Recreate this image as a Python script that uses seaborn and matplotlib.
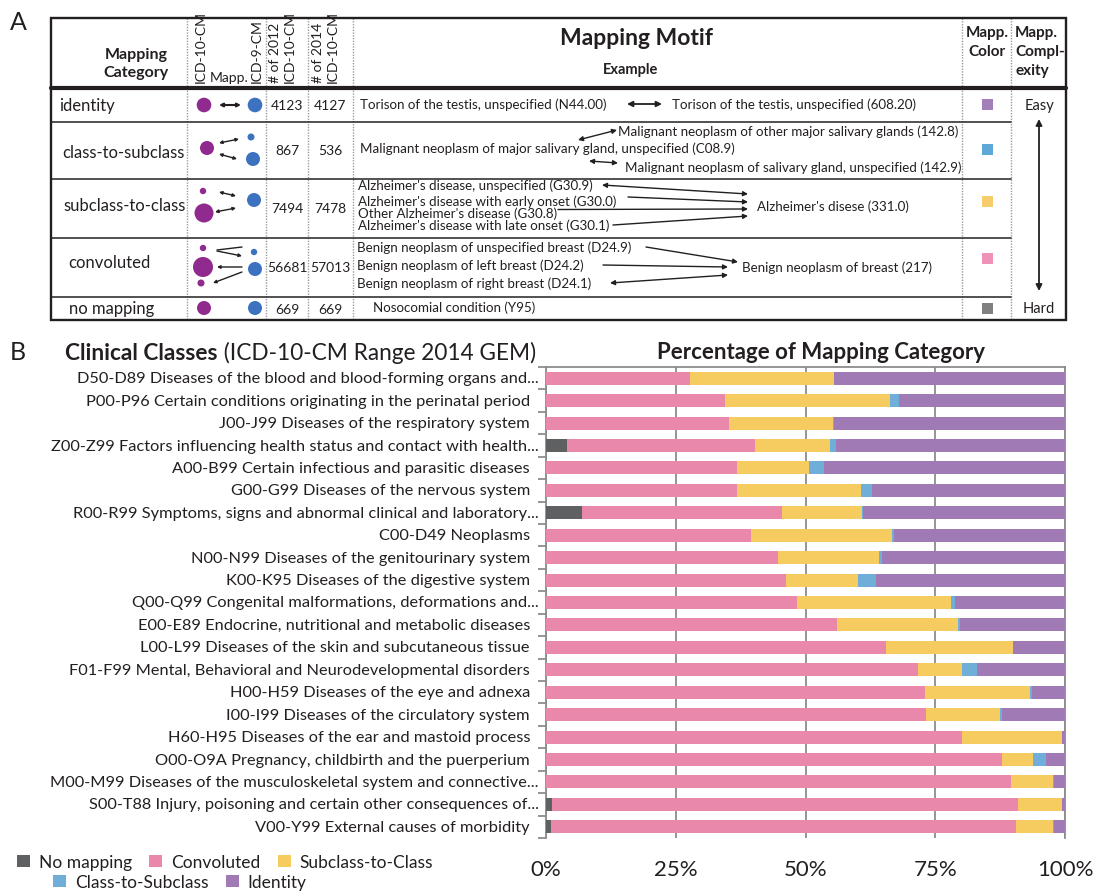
import matplotlib
matplotlib.use('Agg')
import matplotlib.pyplot as plt
import matplotlib.transforms as mtransforms
from matplotlib.patches import Circle, Rectangle, Patch
import seaborn as sns
import numpy as np
import pandas as pd

# ---------------- Panel B data ----------------
classes = [
    "D50-D89 Diseases of the blood and blood-forming organs and...",
    "P00-P96 Certain conditions originating in the perinatal period",
    "J00-J99 Diseases of the respiratory system",
    "Z00-Z99 Factors influencing health status and contact with health...",
    "A00-B99 Certain infectious and parasitic diseases",
    "G00-G99 Diseases of the nervous system",
    "R00-R99 Symptoms, signs and abnormal clinical and laboratory...",
    "C00-D49 Neoplasms",
    "N00-N99 Diseases of the genitourinary system",
    "K00-K95 Diseases of the digestive system",
    "Q00-Q99 Congenital malformations, deformations and...",
    "E00-E89 Endocrine, nutritional and metabolic diseases",
    "L00-L99 Diseases of the skin and subcutaneous tissue",
    "F01-F99 Mental, Behavioral and Neurodevelopmental disorders",
    "H00-H59 Diseases of the eye and adnexa",
    "I00-I99 Diseases of the circulatory system",
    "H60-H95 Diseases of the ear and mastoid process",
    "O00-O9A Pregnancy, childbirth and the puerperium",
    "M00-M99 Diseases of the musculoskeletal system and connective...",
    "S00-T88 Injury, poisoning and certain other consequences of...",
    "V00-Y99 External causes of morbidity",
]
no_mapping        = [0.0, 0.0, 0.0, 4.0, 0.0, 0.0, 6.9, 0.0, 0.0, 0.0, 0.0, 0.0, 0.0, 0.0, 0.0, 0.0, 0.0, 0.0, 0.0, 1.1, 0.9]
convoluted        = [27.8, 34.4, 35.2, 36.2, 36.8, 36.8, 38.5, 39.5, 44.7, 46.2, 48.3, 56.0, 65.6, 71.7, 73.0, 73.3, 80.1, 87.8, 89.5, 89.8, 89.6]
subclass_to_class = [27.7, 31.9, 20.1, 14.6, 13.8, 23.9, 15.5, 27.1, 19.4, 14.0, 29.7, 23.4, 24.3, 8.4, 20.3, 14.2, 19.3, 6.1, 8.1, 8.6, 7.1]
class_to_subclass = [0.0, 1.8, 0.1, 1.0, 3.0, 2.1, 0.1, 0.5, 0.6, 3.4, 0.9, 0.3, 0.0, 2.9, 0.4, 0.3, 0.1, 2.4, 0.2, 0.0, 0.2]
identity          = [44.5, 31.9, 44.6, 44.2, 46.4, 37.2, 39.0, 32.9, 35.3, 36.4, 21.1, 20.3, 10.1, 17.0, 6.3, 12.2, 0.5, 3.7, 2.2, 0.5, 2.2]
series_names = ["No mapping", "Convoluted", "Subclass-to-Class", "Class-to-Subclass", "Identity"]
bar_colors = ["#5e6062", "#e988aa", "#f6cb60", "#6eaed9", "#9f7ab5"]
x_ticks = [0, 25, 50, 75, 100]
x_ticklabels = ["0%", "25%", "50%", "75%", "100%"]

# ---------------- Panel A data ----------------
map_categories = ["identity", "class-to-subclass", "subclass-to-class", "convoluted", "no mapping"]
n_2012 = [4123, 867, 7494, 56681, 669]
n_2014 = [4127, 536, 7478, 57013, 669]
map_colors = ["#a37fb9", "#5ea8d8", "#f7cd6b", "#ee92b7", "#808080"]

sns.set_theme(style="white")
plt.rcParams['font.family'] = ['Lato', 'DejaVu Sans']
TXT = "#231f20"

fig = plt.figure(figsize=(10.94, 8.95), dpi=100)
axA = fig.add_axes([0, 0, 1, 1])
axA.set_xlim(0, 1094)
axA.set_ylim(895, 0)
axA.axis('off')

# ----- panel letters -----
axA.text(18, 22, "A", fontsize=18, ha='center', va='center', color=TXT)
axA.text(18, 352, "B", fontsize=18, ha='center', va='center', color=TXT)

# ----- table frame -----
L, R, T, Bt = 51, 1066, 18.5, 321
row_lines = [123, 180, 239, 298]
col_lines = [187, 266, 308, 353, 962, 1011]
for x in col_lines:
    axA.plot([x, x], [T, Bt], color='#9a9a9a', lw=1.0, ls=(0, (1, 1)), zorder=1)
for y in row_lines:
    axA.plot([L, 1011], [y, y], color='#333333', lw=1.2, zorder=2)
axA.plot([L, R], [89, 89], color=TXT, lw=3.0, zorder=3)
axA.add_patch(Rectangle((L, T), R - L, Bt - T, fill=False, ec=TXT, lw=1.7, zorder=4))

# ----- header -----
axA.text(136, 55, "Mapping", fontsize=11.5, fontweight='bold', ha='center', va='center', color=TXT)
axA.text(136, 73, "Category", fontsize=11.5, fontweight='bold', ha='center', va='center', color=TXT)
for x, s in [(201, "ICD-10-CM"), (257, "ICD-9-CM"), (275, "# of 2012"), (290, "ICD-10-CM"),
             (318, "# of 2014"), (333, "ICD-10-CM")]:
    axA.text(x, 83, s, fontsize=10, rotation=90, rotation_mode='anchor', ha='left', va='center', color=TXT)
axA.text(229, 78, "Mapp.", fontsize=10, ha='center', va='center', color=TXT)
axA.text(637, 38, "Mapping Motif", fontsize=16.5, fontweight='bold', ha='center', va='center', color=TXT)
axA.text(631, 70, "Example", fontsize=10.5, fontweight='bold', ha='center', va='center', color=TXT)
axA.text(987, 33, "Mapp.", fontsize=11, fontweight='bold', ha='center', va='center', color=TXT)
axA.text(987, 52, "Color", fontsize=11, fontweight='bold', ha='center', va='center', color=TXT)
for y, s in [(33, "Mapp."), (52, "Compl-"), (71, "exity")]:
    axA.text(1015, y, s, fontsize=11, fontweight='bold', ha='left', va='center', color=TXT)

# ----- rows -----
row_centers = [106, 151, 209, 268, 309.5]
label_pos = [(59, 106), (62, 153), (63, 206), (68, 263), (69, 309)]
for (x, y), s in zip(label_pos, map_categories):
    axA.text(x, y, s, fontsize=12, ha='left', va='center', color=TXT)
for yc, a, b in zip(row_centers, n_2012, n_2014):
    axA.text(287, yc, str(a), fontsize=10, ha='center', va='center', color=TXT)
    axA.text(330, yc, str(b), fontsize=10, ha='center', va='center', color=TXT)
sq = 11
for yc, c in zip([105, 150, 202, 259, 309], map_colors):
    axA.add_patch(Rectangle((987 - sq / 2, yc - sq / 2), sq, sq, color=c, lw=0, zorder=5))
axA.text(1039, 106, "Easy", fontsize=10.5, ha='center', va='center', color=TXT)
axA.text(1039, 309, "Hard", fontsize=10.5, ha='center', va='center', color=TXT)
axA.annotate("", xy=(1039, 292), xytext=(1039, 120),
             arrowprops=dict(arrowstyle='<|-|>', color=TXT, lw=1.3, mutation_scale=9, shrinkA=0, shrinkB=0))

PUR, BLU = "#902a8e", "#3d72c0"
circles = [
    (204, 106, 7.3, PUR), (255, 106, 7.3, BLU),
    (207, 149, 7.0, PUR), (251, 138, 3.5, BLU), (253, 160, 7.0, BLU),
    (203, 192, 3.2, PUR), (204, 214, 9.5, PUR), (254, 201, 7.0, BLU),
    (203, 249, 3.2, PUR), (203, 268, 10.0, PUR), (201, 284, 3.5, PUR), (254, 253, 3.2, BLU), (255, 270, 7.0, BLU),
    (204, 309, 7.0, PUR), (255, 309, 7.0, BLU),
]
for x, y, r, c in circles:
    axA.add_patch(Circle((x, y), r, color=c, lw=0, zorder=5))


def arrow(p0, p1, style='<|-|>', lw=1.0, ms=7):
    axA.annotate("", xy=p1, xytext=p0,
                 arrowprops=dict(arrowstyle=style, color=TXT, lw=lw, mutation_scale=ms, shrinkA=0, shrinkB=0))


# schematic arrows
arrow((219, 106), (241, 106), lw=1.5, ms=5)
arrow((219, 144), (239, 140), ms=4.5)
arrow((219, 155), (237, 160), ms=4.5)
arrow((219, 193), (236, 197), ms=4.5)
arrow((215, 213), (236, 209), ms=4.5)
axA.plot([242, 217], [248, 251], color=TXT, lw=1.0)
arrow((217, 252), (242, 257), style='-|>', ms=4.5)
arrow((242, 268), (217, 268), style='-|>', ms=4.5)
arrow((242, 273), (213, 284), style='-|>', ms=4.5)

# example texts
FS_EX = 9.6
ex_texts = [
    (360, 105, "Torison of the testis, unspecified (N44.00)"),
    (672, 105, "Torison of the testis, unspecified (608.20)"),
    (360, 149, "Malignant neoplasm of major salivary gland, unspecified (C08.9)"),
    (618, 132, "Malignant neoplasm of other major salivary glands (142.8)"),
    (625, 168, "Malignant neoplasm of salivary gland, unspecified (142.9)"),
    (358, 186, "Alzheimer's disease, unspecified (G30.9)"),
    (358, 201.5, "Alzheimer's disease with early onset (G30.0)"),
    (358, 213.5, "Other Alzheimer's disease (G30.8)"),
    (358, 225.5, "Alzheimer's disease with late onset (G30.1)"),
    (757, 207, "Alzheimer's disese (331.0)"),
    (357, 248, "Benign neoplasm of unspecified breast (D24.9)"),
    (357, 266, "Benign neoplasm of left breast (D24.2)"),
    (357, 284, "Benign neoplasm of right breast (D24.1)"),
    (742, 268, "Benign neoplasm of breast (217)"),
    (373, 308, "Nosocomial condition (Y95)"),
]
for x, y, s in ex_texts:
    axA.text(x, y, s, fontsize=FS_EX, ha='left', va='center', color=TXT)

arrow((627, 105), (662, 105), lw=1.3, ms=8)
arrow((578, 141), (617, 131))
arrow((589, 162), (618, 164))
arrow((602, 186), (748, 195))
arrow((628, 198), (748, 203), style='-|>')
arrow((558, 210.5), (748, 210), style='-|>')
arrow((613, 226), (748, 217), style='-|>')
arrow((646, 248), (738, 263), style='-|>')
arrow((603, 266), (728, 268), style='-|>')
arrow((610, 284), (728, 276))

# ---------------- Panel B ----------------
t1 = axA.text(65, 353, "Clinical Classes", fontsize=16.3, fontweight='bold', ha='left', va='center', color=TXT)
axA.annotate(" (ICD-10-CM Range 2014 GEM)", xy=(1, 0), xycoords=t1, fontsize=16.3,
             ha='left', va='bottom', color=TXT)
axA.text(821, 352, "Percentage of Mapping Category", fontsize=16, fontweight='bold',
         ha='center', va='center', color=TXT)

axB = fig.add_axes([546 / 1094, 1 - 839 / 895, 519 / 1094, 471 / 895])
vals = np.array([no_mapping, convoluted, subclass_to_class, class_to_subclass, identity])
cum = np.cumsum(vals, axis=0)
cum = cum / cum[-1] * 100
df = pd.DataFrame({"cls": classes})
for k in range(5):
    df[f"cum{k}"] = cum[k]
for k in reversed(range(5)):
    sns.barplot(data=df, x=f"cum{k}", y="cls", orient='h', color=bar_colors[k], saturation=1,
                width=0.58, errorbar=None, linewidth=0, ax=axB, zorder=3)

axB.set_xlim(0, 100)
axB.set_xticks(x_ticks)
axB.set_xticklabels(x_ticklabels, fontsize=16, color=TXT)
axB.set_xlabel("")
axB.set_ylabel("")
axB.xaxis.grid(True, color='#8c8c8c', lw=1.3)
axB.yaxis.grid(False)
axB.set_axisbelow(True)
axB.tick_params(axis='x', length=0, pad=15)
n = len(classes)
axB.set_yticks(range(n))
axB.set_yticklabels([])
axB.set_yticks(np.arange(-0.5, n, 1), minor=True)
axB.tick_params(axis='y', which='major', length=0)
axB.tick_params(axis='y', which='minor', length=6, width=1.3, color='#8c8c8c', left=True)
axB.set_ylim(n - 0.5, -0.5)
for side in ['top', 'left', 'right']:
    axB.spines[side].set_visible(True)
    axB.spines[side].set_color('#8c8c8c')
    axB.spines[side].set_linewidth(1.3)
axB.spines['bottom'].set_visible(False)

trans = mtransforms.blended_transform_factory(axB.transAxes, axB.transData)
for i, s in enumerate(classes):
    xa = -7 / 519 if s.endswith("...") else -16 / 519
    axB.text(xa, i, s, transform=trans, fontsize=11.8, ha='right', va='center', color=TXT)

# legend
h = [Patch(facecolor=c, edgecolor='none') for c in bar_colors]
leg1 = fig.legend(h[:3], series_names[:3], loc='center left', bbox_to_anchor=(17 / 1094, 1 - 863 / 895),
                  ncol=3, frameon=False, fontsize=12.5, handlelength=0.75, handleheight=0.75,
                  handletextpad=0.5, columnspacing=1.0, borderpad=0, borderaxespad=0)
leg2 = fig.legend(h[3:], series_names[3:], loc='center left', bbox_to_anchor=(53 / 1094, 1 - 883 / 895),
                  ncol=2, frameon=False, fontsize=12.5, handlelength=0.75, handleheight=0.75,
                  handletextpad=0.5, columnspacing=1.0, borderpad=0, borderaxespad=0)
for lg in (leg1, leg2):
    for t in lg.get_texts():
        t.set_color(TXT)

fig.savefig("out.png", dpi=100)
